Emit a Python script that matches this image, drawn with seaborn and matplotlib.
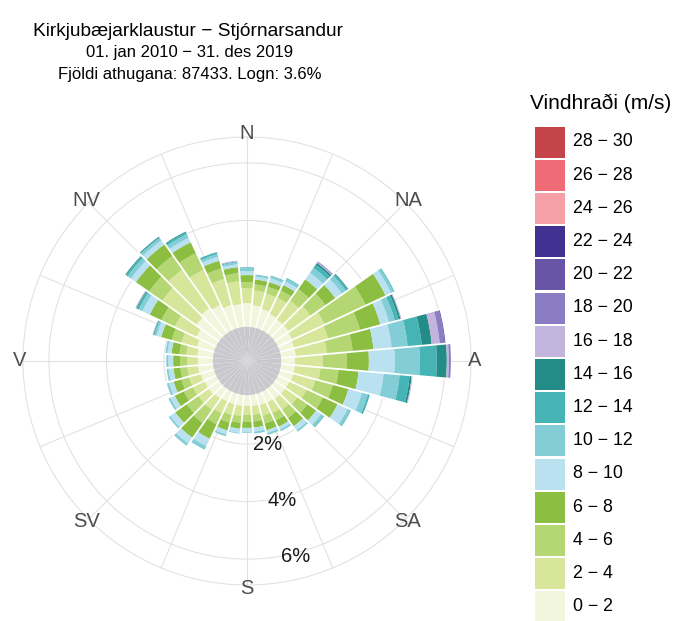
import numpy as np
import pandas as pd
import matplotlib
matplotlib.use("Agg")
import matplotlib.pyplot as plt
import seaborn as sns
from matplotlib.patches import Rectangle

# ---------------- data ----------------
directions = list(range(0, 360, 10))  # bar centres, degrees from north
speed_labels = ["0 − 2", "2 − 4", "4 − 6", "6 − 8", "8 − 10", "10 − 12", "12 − 14",
                "14 − 16", "16 − 18", "18 − 20", "20 − 22", "22 − 24", "24 − 26",
                "26 − 28", "28 − 30"]
compass_angles = [0, 45, 90, 135, 180, 225, 270, 315]
compass_labels = ["N", "NA", "A", "SA", "S", "SV", "V", "NV"]
radial_ticks = [2, 4, 6]
radial_labels = ["2%", "4%", "6%"]
calm_pct = 3.6
n_obs = 87433

# percentage of observations per direction (0, 10, ..., 350 deg) per speed class
s00_02 = [1.13, 1.06, 0.99, 0.92, 0.89, 0.89, 0.85, 0.82, 0.82, 0.78, 0.78, 0.78,
          0.75, 0.75, 0.75, 0.71, 0.71, 0.68, 0.68, 0.68, 0.68, 0.68, 0.71, 0.75,
          0.75, 0.78, 0.82, 0.82, 0.85, 0.92, 1.06, 1.27, 1.37, 1.27, 1.13, 1.10]
s02_04 = [0.52, 0.52, 0.56, 0.63, 0.80, 0.94, 1.25, 1.22, 1.08, 0.97, 0.90, 0.80,
          0.66, 0.52, 0.45, 0.42, 0.38, 0.31, 0.31, 0.35, 0.38, 0.45, 0.49, 0.45,
          0.45, 0.42, 0.38, 0.38, 0.38, 0.56, 0.83, 1.46, 1.63, 1.36, 0.94, 0.80]
s04_06 = [0.21, 0.21, 0.24, 0.28, 0.49, 0.63, 1.57, 1.15, 0.90, 0.83, 0.63, 0.63,
          0.63, 0.42, 0.35, 0.28, 0.28, 0.24, 0.24, 0.24, 0.28, 0.42, 0.56, 0.49,
          0.35, 0.28, 0.24, 0.24, 0.24, 0.35, 0.52, 0.56, 0.59, 0.63, 0.38, 0.28]
s06_08 = [0.24, 0.17, 0.17, 0.21, 0.42, 0.42, 0.77, 0.73, 0.73, 0.77, 0.70, 0.56,
          0.56, 0.38, 0.35, 0.24, 0.24, 0.21, 0.21, 0.21, 0.28, 0.56, 0.63, 0.49,
          0.35, 0.28, 0.24, 0.24, 0.28, 0.38, 0.45, 0.56, 0.49, 0.42, 0.28, 0.21]
s08_10 = [0.14, 0.10, 0.14, 0.14, 0.28, 0.28, 0.21, 0.31, 0.63, 0.90, 0.87, 0.49,
          0.38, 0.21, 0.17, 0.10, 0.10, 0.14, 0.14, 0.14, 0.14, 0.28, 0.24, 0.21,
          0.17, 0.17, 0.17, 0.17, 0.14, 0.17, 0.28, 0.21, 0.17, 0.17, 0.14, 0.10]
s10_12 = [0.10, 0.05, 0.07, 0.10, 0.21, 0.17, 0.10, 0.21, 0.56, 0.87, 0.56, 0.21,
          0.10, 0.10, 0.07, 0.07, 0.07, 0.07, 0.03, 0.03, 0.07, 0.14, 0.10, 0.07,
          0.07, 0.07, 0.07, 0.07, 0.07, 0.07, 0.14, 0.14, 0.10, 0.14, 0.10, 0.07]
s12_14 = [0.03, 0.02, 0.02, 0.03, 0.14, 0.07, 0.03, 0.14, 0.49, 0.59, 0.35, 0.07,
          0.03, 0.03, 0.00, 0.00, 0.00, 0.00, 0.00, 0.00, 0.00, 0.00, 0.00, 0.00,
          0.00, 0.00, 0.00, 0.00, 0.00, 0.03, 0.07, 0.07, 0.03, 0.07, 0.07, 0.03]
s14_16 = [0.00, 0.00, 0.00, 0.00, 0.07, 0.03, 0.00, 0.07, 0.35, 0.35, 0.07, 0.00,
          0.00, 0.00, 0.00, 0.00, 0.00, 0.00, 0.00, 0.00, 0.00, 0.00, 0.00, 0.00,
          0.00, 0.00, 0.00, 0.00, 0.00, 0.02, 0.03, 0.03, 0.03, 0.03, 0.00, 0.00]
s16_18 = [0.00, 0.00, 0.00, 0.00, 0.03, 0.00, 0.00, 0.03, 0.28, 0.07, 0.03, 0.00,
          0.00, 0.00, 0.00, 0.00, 0.00, 0.00, 0.00, 0.00, 0.00, 0.00, 0.00, 0.00,
          0.00, 0.00, 0.00, 0.00, 0.00, 0.02, 0.03, 0.00, 0.00, 0.00, 0.00, 0.03]
s18_20 = [0.00, 0.00, 0.00, 0.00, 0.03, 0.00, 0.00, 0.00, 0.17, 0.07, 0.00, 0.00,
          0.00, 0.00, 0.00, 0.00, 0.00, 0.00, 0.00, 0.00, 0.00, 0.00, 0.00, 0.00,
          0.00, 0.00, 0.00, 0.00, 0.00, 0.00, 0.00, 0.00, 0.00, 0.00, 0.00, 0.00]
s20_22 = [0.00, 0.00, 0.00, 0.00, 0.00, 0.00, 0.00, 0.00, 0.03, 0.00, 0.00, 0.00,
          0.00, 0.00, 0.00, 0.00, 0.00, 0.00, 0.00, 0.00, 0.00, 0.00, 0.00, 0.00,
          0.00, 0.00, 0.00, 0.00, 0.00, 0.00, 0.00, 0.00, 0.00, 0.00, 0.00, 0.00]
s22_24 = [0.0] * 36
s24_26 = [0.0] * 36
s26_28 = [0.0] * 36
s28_30 = [0.0] * 36

series = [s00_02, s02_04, s04_06, s06_08, s08_10, s10_12, s12_14, s14_16,
          s16_18, s18_20, s20_22, s22_24, s24_26, s26_28, s28_30]

colors = ["#f2f6dc", "#d7e69b", "#b4d773", "#8cbe41", "#b9e1f0", "#82cdd6",
          "#46b4b4", "#238c87", "#c2b4dc", "#8b7dc3", "#6955a5", "#413291",
          "#f4a0a6", "#ef6b75", "#c4444a"]

# long table
df = pd.DataFrame({
    "direction": np.tile(directions, len(series)),
    "speed": np.repeat(speed_labels, len(directions)),
    "pct": np.concatenate([np.array(s, dtype=float) for s in series]),
})

# ---------------- style ----------------
sns.set_style("white")
plt.rcParams["font.family"] = ["Liberation Sans", "DejaVu Sans"]

W, H = 679, 621
fig = plt.figure(figsize=(W / 100, H / 100), dpi=100)
cx, cy, R = 247, 361, 224
ax = fig.add_axes([(cx - R) / W, (H - cy - R) / H, 2 * R / W, 2 * R / H],
                  projection="polar")
ax.set_theta_zero_location("N")
ax.set_theta_direction(-1)

RMIN, RMAX = -0.887, 6.9
theta = np.deg2rad(directions)
bw = np.deg2rad(10)

bottom = np.zeros(len(directions))
for lab, col in zip(speed_labels, colors):
    vals = df.loc[df["speed"] == lab, "pct"].to_numpy()
    ax.bar(theta, vals, width=bw, bottom=bottom, color=col, edgecolor="none",
           linewidth=0, zorder=2, align="center")
    bottom += vals
totals = bottom

# white separators between neighbouring direction bars
for i in range(len(directions)):
    j = (i + 1) % len(directions)
    edge = theta[i] + bw / 2
    ax.plot([edge, edge], [RMIN, max(totals[i], totals[j]) + 0.05],
            color="white", linewidth=1.3, zorder=2.5, solid_capstyle="butt")

# calm disc
ax.bar(theta, 0.30 - RMIN, width=bw * 0.975, bottom=RMIN,
       color="#c9c9cd", edgecolor="none", zorder=3)

ax.set_ylim(RMIN, RMAX)
ax.set_yticks(radial_ticks)
ax.set_yticklabels([])
ax.set_xticks(np.deg2rad(np.arange(0, 360, 22.5)))
ax.set_xticklabels([])
ax.grid(True, color="#e2e2e2", linewidth=0.8, zorder=0)
ax.set_axisbelow(True)
ax.spines["polar"].set_color("#e2e2e2")
ax.spines["polar"].set_linewidth(0.8)

for ang, lab in zip(compass_angles, compass_labels):
    ax.text(np.deg2rad(ang), 7.02, lab, ha="center", va="center",
            fontsize=14.5, color="#4d4d4d", clip_on=False)
for t, lab in zip(radial_ticks, radial_labels):
    ax.text(np.deg2rad(166), t + 0.12, lab, ha="center", va="center",
            fontsize=14.5, color="#1a1a1a", zorder=6, clip_on=False)

# titles
fig.text(188 / W, 1 - 31 / H, "Kirkjubæjarklaustur − Stjórnarsandur",
         ha="center", va="center", fontsize=13.8, color="black")
fig.text(190 / W, 1 - 53 / H, "01. jan 2010 − 31. des 2019",
         ha="center", va="center", fontsize=12, color="black")
fig.text(190 / W, 1 - 75 / H,
         f"Fjöldi athugana: {n_obs}. Logn: {calm_pct}%",
         ha="center", va="center", fontsize=12, color="black")

# legend (drawn in a pixel-coordinate overlay)
lax = fig.add_axes([0, 0, 1, 1], facecolor="none")
lax.set_xlim(0, W)
lax.set_ylim(H, 0)
lax.axis("off")
lax.text(530, 103, "Vindhraði (m/s)", ha="left", va="center",
         fontsize=15, color="black")
key_top, pitch, key_w, key_h = 126.5, 33.2, 30, 31
for i, (lab, col) in enumerate(zip(speed_labels[::-1], colors[::-1])):
    y0 = key_top + i * pitch
    lax.add_patch(Rectangle((535, y0), key_w, key_h, facecolor=col,
                            edgecolor="none"))
    lax.text(573, y0 + key_h / 2, lab, ha="left", va="center",
             fontsize=12.8, color="black")

fig.savefig("out.png", dpi=100)
